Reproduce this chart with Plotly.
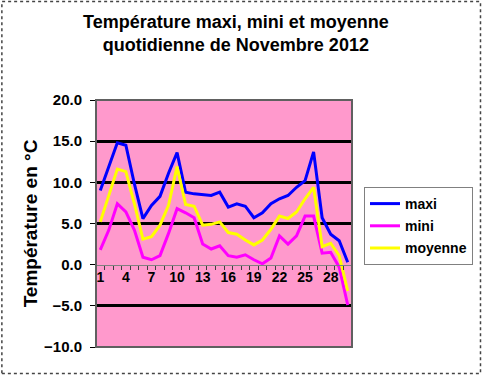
import plotly.graph_objects as go

days = list(range(1, 31))
maxi = [9.0, 11.9, 14.8, 14.5, 9.8, 5.6, 7.2, 8.3, 11.1, 13.6,
        8.8, 8.6, 8.5, 8.4, 8.8, 7.0, 7.4, 7.1, 5.7, 6.3,
        7.4, 8.0, 8.4, 9.4, 10.2, 13.7, 5.7, 3.7, 2.9, 0.3]
mini = [1.8, 4.2, 7.4, 6.4, 4.2, 0.9, 0.6, 1.1, 3.8, 6.8,
        6.3, 5.7, 2.5, 1.9, 2.3, 1.1, 0.9, 1.2, 0.6, 0.1,
        0.8, 3.5, 2.5, 3.5, 5.9, 5.9, 1.4, 1.5, -0.3, -4.9]
moyenne = [5.2, 8.4, 11.6, 11.3, 7.4, 3.1, 3.4, 4.8, 7.2, 11.9,
           7.3, 7.1, 4.8, 4.9, 5.2, 3.9, 3.7, 3.0, 2.4, 3.0,
           4.3, 5.9, 5.6, 6.4, 8.0, 9.4, 2.2, 2.6, 1.1, -3.2]
x_ticks = list(range(1, 31, 3))
y_ticks = [-10, -5, 0, 5, 10, 15, 20]
grid_vals = [-5, 5, 10, 15]

W, H = 484, 376
L, R, T, B = 96, 131, 100, 29
pw, ph = W - L - R, H - T - B

FONT = "Liberation Sans, Arial, sans-serif"

fig = go.Figure()
for name, vals, col in [("maxi", maxi, "#0000FF"),
                        ("mini", mini, "#FF00FF"),
                        ("moyenne", moyenne, "#FFFF00")]:
    fig.add_trace(go.Scatter(x=days, y=vals, mode="lines", name=name,
                             legendgroup=name,
                             line=dict(color=col, width=3)))
# empty trace so the gridline axis (y2) is instantiated
fig.add_trace(go.Scatter(x=[], y=[], yaxis="y2", showlegend=False, hoverinfo="skip"))

ymin, ymax = -10, 20
zero_pos = (0 - ymin) / (ymax - ymin)

fig.update_layout(
    width=W, height=H,
    margin=dict(l=L, r=R, t=T, b=B),
    paper_bgcolor="white",
    plot_bgcolor="#FF99CC",
    font=dict(family=FONT, size=14, color="black", weight="bold"),
    showlegend=True,
    legend=dict(x=(364 - L) / pw, y=(H - B - 187) / ph, xanchor="left", yanchor="top",
                bgcolor="white", bordercolor="#808080", borderwidth=1,
                font=dict(size=14, family=FONT, weight="bold"),
                tracegroupgap=1, itemwidth=30),
    xaxis=dict(range=[0.5, 30.5], anchor="free", position=zero_pos,
               showline=True, linecolor="#808080", linewidth=1,
               tickvals=x_ticks, ticks="", ticklen=0,
               minor=dict(ticks="outside", ticklen=4, tick0=0.5, dtick=1,
                          tickcolor="#404040", showgrid=False),
               showgrid=False, zeroline=False,
               tickfont=dict(size=14, family=FONT, weight="bold")),
    yaxis=dict(range=[ymin, ymax], tickvals=y_ticks, tickformat=".1f",
               ticks="outside", ticklen=5, tickcolor="black",
               ticklabelstandoff=5,
               showgrid=False, zeroline=False, showline=False,
               tickfont=dict(size=15, family=FONT, weight="bold"),
               title=dict(text="Température en °C", standoff=1,
                          font=dict(size=19, family=FONT, weight="bold"))),
    yaxis2=dict(range=[ymin, ymax], overlaying="y", tickvals=grid_vals,
                showgrid=True, gridcolor="black", gridwidth=2.5,
                showticklabels=False, ticks="", zeroline=False, showline=False),
)

# plot-area frame
fig.add_shape(type="rect", xref="x domain", yref="y domain", x0=0, x1=1, y0=0, y1=1,
              line=dict(color="#606060", width=2), layer="above")
# outer chart frame (dotted)
fig.add_shape(type="rect", xref="paper", yref="paper",
              x0=(1.5 - L) / pw, x1=(482 - L) / pw,
              y0=(H - B - 373.5) / ph, y1=(H - B - 1.5) / ph,
              line=dict(color="#444444", width=1.5, dash="dot"))

# two-line title
fig.add_annotation(text="Température maxi, mini et moyenne<br>quotidienne de Novembre 2012",
                   xref="paper", yref="paper",
                   x=(237 - L) / pw, y=(H - B - 34) / ph, showarrow=False,
                   xanchor="center", yanchor="middle",
                   font=dict(size=18, family=FONT, weight="bold"))

fig.write_html("out.html",
               config={"displayModeBar": False},
               post_script="document.body.style.margin='0';document.body.style.overflow='hidden';")
